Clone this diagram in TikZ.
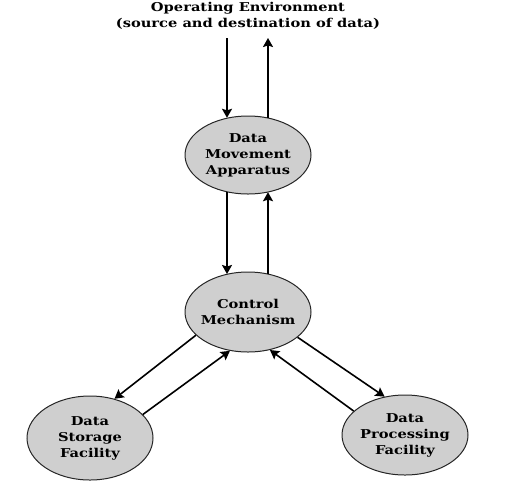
\documentclass[tikz,border=0pt]{standalone}
\usepackage{fontspec}
\setmainfont{DejaVu Serif}[FakeStretch=1.2]
\usetikzlibrary{shapes.geometric,arrows.meta}
\begin{document}
\begin{tikzpicture}[x=1pt,y=-1pt,
  lbl/.style={align=center,inner sep=0pt,font=\bfseries\fontsize{12.2}{16}\selectfont},
  blob/.style={ellipse,draw=black!85,line width=1pt,fill=black!19,
    minimum width=126pt,minimum height=78pt,inner sep=0pt},
  arr/.style={line width=1.6pt,-{Stealth[length=9pt,width=10pt,inset=1.5pt]}},
  ttl/.style={align=center,font=\bfseries\fontsize{12.2}{16}\selectfont}]
\useasboundingbox (0,0) rectangle (529,483);
\node[ttl] (env) at (248,15.5) {Operating Environment\\(source and destination of data)};
\node[blob,label={[lbl]center:{Data\\Movement\\Apparatus}}] (dma) at (248,155) {};
\node[blob,minimum height=80pt,label={[lbl]center:{Control\\Mechanism}}] (cm) at (248,312) {};
\node[blob,minimum height=84pt,label={[lbl]center:{Data\\Storage\\Facility}}] (dsf) at (90,438) {};
\node[blob,minimum height=80pt,label={[lbl]center:{Data\\Processing\\Facility}}] (dpf) at (405,435) {};
\coordinate (t1) at (227,38);
\coordinate (t2) at (268,38);
\draw[arr] (t1) -- (t1 |- dma.120);
\draw[arr] (t2 |- dma.60) -- (t2);
\draw[arr] (t1 |- dma.240) -- (t1 |- cm.120);
\draw[arr] (t2 |- cm.60) -- (t2 |- dma.300);
\draw[arr] (cm.204) -- (dsf.58);
\draw[arr] (dsf.24) -- (cm.245);
\draw[arr] (cm.333) -- (dpf.118);
\draw[arr] (dpf.155) -- (cm.300);
\end{tikzpicture}
\end{document}
